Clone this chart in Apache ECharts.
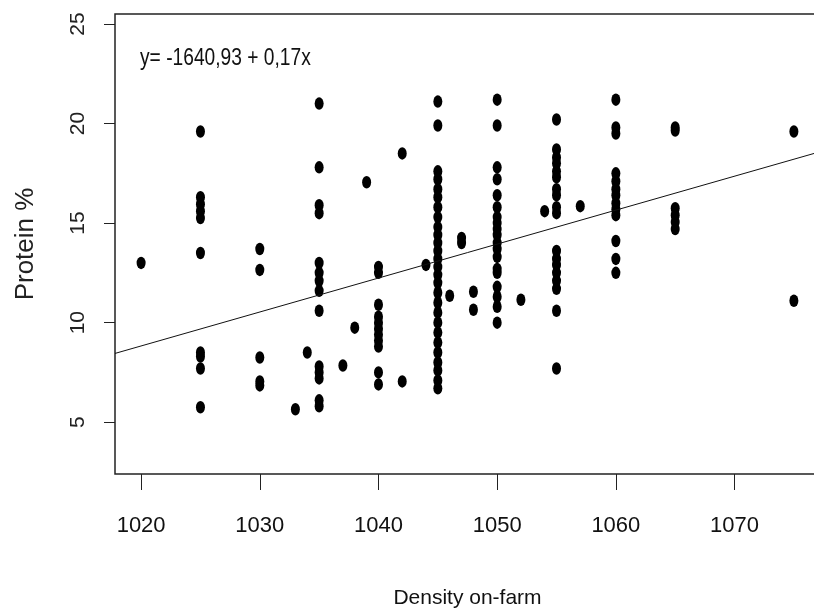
<!DOCTYPE html>
<html>
<head>
<meta charset="utf-8">
<script src="https://cdn.jsdelivr.net/npm/echarts@6/dist/echarts.min.js"></script>
<style>
  html, body { margin: 0; padding: 0; background: #fff; overflow: hidden; }
  /* plot box runs a few px past the right edge, as in the original */
  #main { width: 820px; height: 615px; }
</style>
</head>
<body>
<div id="main"></div>
<script>
// protein % readings grouped by on-farm density
var densities = [1020, 1025, 1030, 1033, 1034, 1035, 1037, 1038, 1039, 1040, 1042, 1044, 1045, 1046, 1047, 1048, 1050, 1052, 1054, 1055, 1057, 1060, 1065, 1075];
var proteinByDensity = [
  [13.0],
  [19.6, 16.3, 15.95, 15.6, 15.25, 13.5, 8.5, 8.3, 7.7, 5.75],
  [13.7, 12.65, 8.25, 7.05, 6.85],
  [5.65],
  [8.5],
  [21.0, 17.8, 15.9, 15.5, 13.0, 12.5, 12.1, 11.6, 10.6, 7.8, 7.5, 7.2, 6.1, 5.8],
  [7.85],
  [9.75],
  [17.05],
  [12.8, 12.5, 10.9, 10.3, 10.0, 9.7, 9.4, 9.1, 8.8, 7.5, 6.9],
  [18.5, 7.05],
  [12.9],
  [21.1, 19.9, 17.6, 17.2, 16.7, 16.3, 15.8, 15.3, 14.8, 14.4, 14.0, 13.6, 13.2, 12.8, 12.4, 12.0, 11.5, 11.0, 10.5, 10.0, 9.5, 9.0, 8.5, 8.0, 7.6, 7.1, 6.7],
  [11.35],
  [14.25, 14.0],
  [11.55, 10.65],
  [21.2, 19.9, 17.8, 17.2, 16.4, 15.8, 15.3, 15.0, 14.7, 14.4, 14.0, 13.7, 13.3, 12.7, 12.5, 11.8, 11.3, 10.8, 10.0],
  [11.15],
  [15.6],
  [20.2, 18.7, 18.3, 18.0, 17.6, 17.3, 16.7, 16.4, 15.8, 15.5, 13.6, 13.2, 12.9, 12.5, 12.1, 11.7, 10.6, 7.7],
  [15.85],
  [21.2, 19.8, 19.5, 17.5, 17.1, 16.7, 16.4, 16.0, 15.7, 15.4, 14.1, 13.2, 12.5],
  [19.8, 19.65, 15.75, 15.4, 15.05, 14.7],
  [19.6, 11.1]
];
var xTicks = [1020, 1030, 1040, 1050, 1060, 1070];
var yTicks = [5, 10, 15, 20, 25];
var xRange = [1017.8, 1077.2];
var yRange = [2.4, 25.5];
// fitted line as drawn in the picture
var fitIntercept = -165.08;
var fitSlope = 0.1705;
var equationText = 'y= -1640,93 + 0,17x';

var points = [];
densities.forEach(function (d, i) {
  proteinByDensity[i].forEach(function (p) { points.push([d, p]); });
});
var fitLine = xRange.map(function (x) { return [x, fitIntercept + fitSlope * x]; });

var font = "'Liberation Sans', Arial, sans-serif";

var myChart = echarts.init(document.getElementById('main'));
myChart.setOption({
  animation: false,
  backgroundColor: '#fff',
  grid: {
    left: 115, top: 14, bottom: 141, right: 0,
    show: true, borderColor: '#222', borderWidth: 1.5, backgroundColor: 'transparent'
  },
  xAxis: {
    type: 'value',
    min: xRange[0], max: xRange[1],
    name: 'Density on-farm',
    nameLocation: 'middle',
    nameGap: 114,
    nameTextStyle: { fontFamily: font, fontSize: 21, color: '#111' },
    axisLine: { show: false },
    axisTick: { show: true, length: 16, lineStyle: { color: '#222', width: 1 }, customValues: xTicks },
    axisLabel: {
      fontFamily: font, fontSize: 22, color: '#111', margin: 41, customValues: xTicks,
      formatter: function (v) { return String(v); }
    },
    splitLine: { show: false }
  },
  yAxis: {
    type: 'value',
    min: yRange[0], max: yRange[1],
    name: 'Protein %',
    nameLocation: 'middle',
    nameGap: 76,
    nameTextStyle: { fontFamily: font, fontSize: 26, color: '#222' },
    axisLine: { show: false },
    axisTick: { show: true, length: 11, lineStyle: { color: '#222', width: 1 }, customValues: yTicks },
    axisLabel: { fontFamily: font, fontSize: 21, color: '#222', margin: 26, rotate: 90, customValues: yTicks },
    splitLine: { show: false }
  },
  graphic: [{
    type: 'text', left: 140, top: 46, scaleX: 0.8,
    style: { text: equationText, font: '24px ' + font, fill: '#111' }
  }],
  series: [{
    type: 'scatter',
    data: points,
    symbol: 'circle',
    symbolSize: [9, 12.5],
    itemStyle: { color: '#000', opacity: 1 },
    silent: true
  }, {
    type: 'line',
    data: fitLine,
    showSymbol: false,
    lineStyle: { color: '#111', width: 1 },
    silent: true,
    z: 3
  }]
});
</script>
</body>
</html>
